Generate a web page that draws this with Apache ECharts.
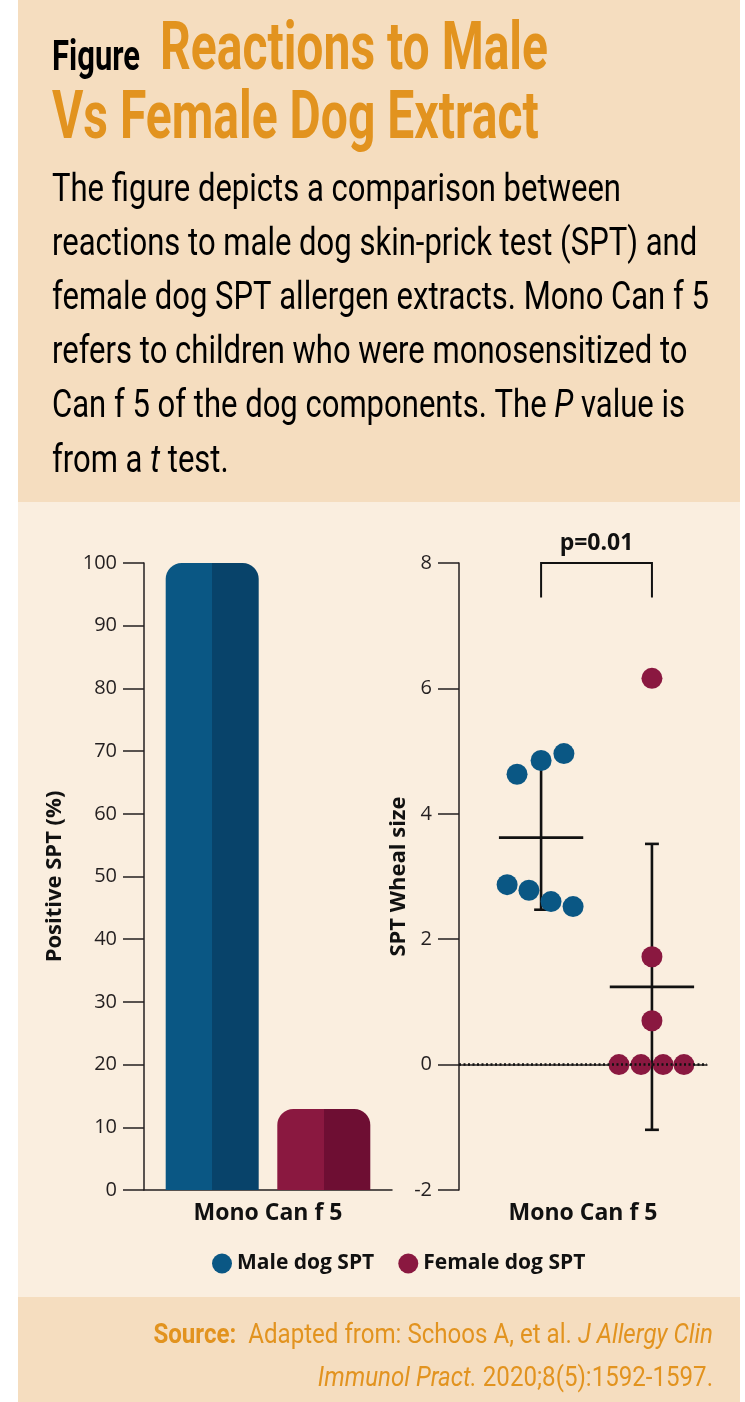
<!DOCTYPE html>
<html>
<head>
<meta charset="utf-8">
<script src="https://cdn.jsdelivr.net/npm/echarts@6.0.0/dist/echarts.min.js"></script>
<style>
  html, body { margin: 0; padding: 0; background: #ffffff; }
  #chart { width: 745px; height: 1402px; }
</style>
</head>
<body>
<div id="chart"></div>
<script>
// ---------- data ----------
const categories = ['Mono Can f 5'];
const seriesNames = ['Male dog SPT', 'Female dog SPT'];
const positiveSPT = [100, 12.9];               // % positive SPT
const maleWheal = [4.63, 4.85, 4.96, 2.87, 2.78, 2.60, 2.52];
const maleJitter = [23.4, 33.1, 42.3, 19.4, 28.2, 37.1, 46.0];
const femaleWheal = [6.16, 1.72, 0.70, 0, 0, 0, 0];
const femaleJitter = [77.8, 77.8, 77.8, 64.5, 73.4, 82.3, 90.7];
const groupCenters = [33.1, 77.8];
const whealMean = [3.62, 1.24];
const whealSD = [1.15, 2.28];
const pValueLabel = 'p=0.01';
const bracketY = [8, 7.45];

const titleWord = 'Figure';
const titleLines = ['Reactions to Male', 'Vs Female Dog Extract'];
const bodyLines = [
  'The figure depicts a comparison between',
  'reactions to male dog skin-prick test (SPT) and',
  'female dog SPT allergen extracts. Mono Can f 5',
  'refers to children who were monosensitized to',
  'Can f 5 of the dog components. The {i|P} value is',
  'from a {i|t} test.'
];
const sourceLines = [
  '{b|Source:}  Adapted from: Schoos A, et al. {i|J Allergy Clin}',
  '{i|Immunol Pract.} 2020;8(5):1592-1597.'
];

// ---------- styles ----------
const BLUE = '#0A5784', BLUE_D = '#08436A';
const RED = '#8A1840', RED_D = '#6E0E33';
const ORANGE = '#E2931F';
const INK = '#231F20';
const AX = { lineStyle: { color: INK, width: 1.5 } };
const NUM_FONT = 'Open Sans';
const COND = 'Roboto';

const mctx = document.createElement('canvas').getContext('2d');
function fit(text, font, target) { mctx.font = font; return target / mctx.measureText(text).width; }

const titleFont = 'bold 66px ' + COND;
const titleScale = fit(titleLines[0], titleFont, 388);
const figFont = 'bold 42px ' + COND;
const figScale = fit(titleWord, figFont, 88);
const bodyFont = '38px ' + COND;
const bodyScale = fit(bodyLines[0], bodyFont, 569);
const srcFont = '28px ' + COND;
const srcScale = fit('Immunol Pract. 2020;8(5):1592-1597.', srcFont, 400);

function txt(text, x, y, font, fill, sx, align, rich) {
  return {
    type: 'text', x: x, y: y, scaleX: sx, z: 5,
    style: { text: text, font: font, fill: fill, align: align || 'left', verticalAlign: 'middle',
             textAlign: align || 'left', textVerticalAlign: 'middle', rich: rich }
  };
}

const graphics = [
  { type: 'rect', z: -10, shape: { x: 18, y: 0, width: 722, height: 502 }, style: { fill: '#F5DDBF' } },
  { type: 'rect', z: -10, shape: { x: 18, y: 502, width: 722, height: 795 }, style: { fill: '#FAEEDF' } },
  { type: 'rect', z: -10, shape: { x: 18, y: 1297, width: 722, height: 105 }, style: { fill: '#F5DDBF' } },
  txt(titleWord, 52, 59, figFont, '#000000', figScale),
  txt(titleLines[0], 160, 52, titleFont, ORANGE, titleScale),
  txt(titleLines[1], 52, 121, titleFont, ORANGE, titleScale)
];
bodyLines.forEach(function (l, i) {
  graphics.push(txt(l, 52, 191 + i * 54.2, bodyFont, '#000000', bodyScale, 'left',
    { i: { font: 'italic 38px ' + COND, fill: '#000000' } }));
});
sourceLines.forEach(function (l, i) {
  graphics.push(txt(l, 713, 1336 + i * 43, srcFont, ORANGE, srcScale, 'right', {
    b: { font: 'bold 28px ' + COND, fill: ORANGE },
    i: { font: 'italic 28px ' + COND, fill: ORANGE }
  }));
});

function twoTone(c1, c2) {
  return new echarts.graphic.LinearGradient(0, 0, 1, 0, [
    { offset: 0, color: c1 }, { offset: 0.5, color: c1 },
    { offset: 0.5, color: c2 }, { offset: 1, color: c2 }
  ]);
}

const MEAN_HALF = 17, CAP_HALF = 2.8;
function renderErr(params, api) {
  const cx = api.value(0), m = api.value(1), sd = api.value(2);
  const st = { stroke: '#111111', lineWidth: 2.6 };
  const l = api.coord([cx - MEAN_HALF, m]), r = api.coord([cx + MEAN_HALF, m]);
  const t = api.coord([cx, m + sd]), b = api.coord([cx, m - sd]);
  const tl = api.coord([cx - CAP_HALF, m + sd]), tr = api.coord([cx + CAP_HALF, m + sd]);
  const bl = api.coord([cx - CAP_HALF, m - sd]), br = api.coord([cx + CAP_HALF, m - sd]);
  return { type: 'group', children: [
    { type: 'line', shape: { x1: l[0], y1: l[1], x2: r[0], y2: r[1] }, style: st },
    { type: 'line', shape: { x1: t[0], y1: t[1], x2: b[0], y2: b[1] }, style: st },
    { type: 'line', shape: { x1: tl[0], y1: tl[1], x2: tr[0], y2: tr[1] }, style: st },
    { type: 'line', shape: { x1: bl[0], y1: bl[1], x2: br[0], y2: br[1] }, style: st }
  ]};
}
function renderBracket(params, api) {
  const a = api.coord([api.value(0), api.value(2)]);
  const b = api.coord([api.value(1), api.value(2)]);
  const a2 = api.coord([api.value(0), api.value(3)]);
  const b2 = api.coord([api.value(1), api.value(3)]);
  return { type: 'group', children: [
    { type: 'polyline', shape: { points: [a2, a, b, b2] }, style: { stroke: '#111111', lineWidth: 2, fill: null } },
    { type: 'text', style: { text: pValueLabel, x: (a[0] + b[0]) / 2, y: a[1] - 8,
        font: 'bold 23px ' + NUM_FONT, fill: '#111111', align: 'center', verticalAlign: 'bottom',
        textAlign: 'center', textVerticalAlign: 'bottom' } }
  ]};
}

const option = {
  animation: false,
  backgroundColor: 'transparent',
  textStyle: { fontFamily: NUM_FONT },
  graphic: graphics,
  legend: {
    left: 207, top: 1248, itemWidth: 20, itemHeight: 20, itemGap: 24,
    textStyle: { fontFamily: NUM_FONT, fontWeight: 'bold', fontSize: 21, color: '#111111' },
    data: [
      { name: seriesNames[0], icon: 'circle', itemStyle: { color: BLUE } },
      { name: seriesNames[1], icon: 'circle', itemStyle: { color: RED } }
    ]
  },
  grid: [
    { left: 144, width: 248, top: 563, height: 627 },
    { left: 459, width: 248, top: 563, height: 627 }
  ],
  xAxis: [
    { type: 'category', gridIndex: 0, data: categories, axisLine: AX, axisTick: { show: false },
      axisLabel: { fontFamily: NUM_FONT, fontWeight: 'bold', fontSize: 23, color: '#111111', margin: 12 } },
    { type: 'category', gridIndex: 1, data: categories, axisLine: AX, axisTick: { show: false },
      axisLabel: { fontFamily: NUM_FONT, fontWeight: 'bold', fontSize: 23, color: '#111111', margin: 12 } },
    { type: 'value', gridIndex: 1, min: 0, max: 100, show: false }
  ],
  yAxis: [
    { type: 'value', gridIndex: 0, min: 0, max: 100, interval: 10,
      axisLine: { show: true, lineStyle: AX.lineStyle }, splitLine: { show: false },
      axisTick: { show: true, length: 21, lineStyle: AX.lineStyle },
      axisLabel: { fontFamily: NUM_FONT, fontSize: 20, color: INK, margin: 27 },
      name: 'Positive SPT (%)', nameLocation: 'middle', nameGap: 78,
      nameTextStyle: { fontFamily: NUM_FONT, fontWeight: 'bold', fontSize: 22, color: '#111111' } },
    { type: 'value', gridIndex: 1, min: -2, max: 8, interval: 2,
      axisLine: { show: true, lineStyle: AX.lineStyle }, splitLine: { show: false },
      axisTick: { show: true, length: 21, lineStyle: AX.lineStyle },
      axisLabel: { fontFamily: NUM_FONT, fontSize: 20, color: INK, margin: 27 },
      name: 'SPT Wheal size', nameLocation: 'middle', nameGap: 45,
      nameTextStyle: { fontFamily: NUM_FONT, fontWeight: 'bold', fontSize: 22, color: '#111111' } }
  ],
  series: [
    { name: seriesNames[0], type: 'bar', xAxisIndex: 0, yAxisIndex: 0, barWidth: 93, barGap: '20%',
      data: [positiveSPT[0]], itemStyle: { color: twoTone(BLUE, BLUE_D), borderRadius: [16, 16, 0, 0] } },
    { name: seriesNames[1], type: 'bar', xAxisIndex: 0, yAxisIndex: 0, barWidth: 93, barGap: '20%',
      data: [positiveSPT[1]], itemStyle: { color: twoTone(RED, RED_D), borderRadius: [16, 16, 0, 0] } },
    { type: 'custom', xAxisIndex: 2, yAxisIndex: 1, z: 1, clip: false, renderItem: renderErr,
      data: groupCenters.map(function (c, i) { return [c, whealMean[i], whealSD[i]]; }),
      markLine: { silent: true, symbol: 'none', label: { show: false },
        lineStyle: { color: '#111111', type: [2, 2.5], width: 2.5 }, data: [{ yAxis: 0 }] } },
    { type: 'custom', xAxisIndex: 2, yAxisIndex: 1, z: 1, clip: false, renderItem: renderBracket,
      data: [[groupCenters[0], groupCenters[1], bracketY[0], bracketY[1]]] },
    { name: seriesNames[0], type: 'scatter', xAxisIndex: 2, yAxisIndex: 1, z: 3, symbolSize: 21,
      itemStyle: { color: BLUE, opacity: 1 },
      data: maleWheal.map(function (v, i) { return [maleJitter[i], v]; }) },
    { name: seriesNames[1], type: 'scatter', xAxisIndex: 2, yAxisIndex: 1, z: 3, symbolSize: 21,
      itemStyle: { color: RED, opacity: 1 },
      data: femaleWheal.map(function (v, i) { return [femaleJitter[i], v]; }) }
  ]
};

const chart = echarts.init(document.getElementById('chart'), null, { renderer: 'canvas' });
chart.setOption(option);
</script>
</body>
</html>
